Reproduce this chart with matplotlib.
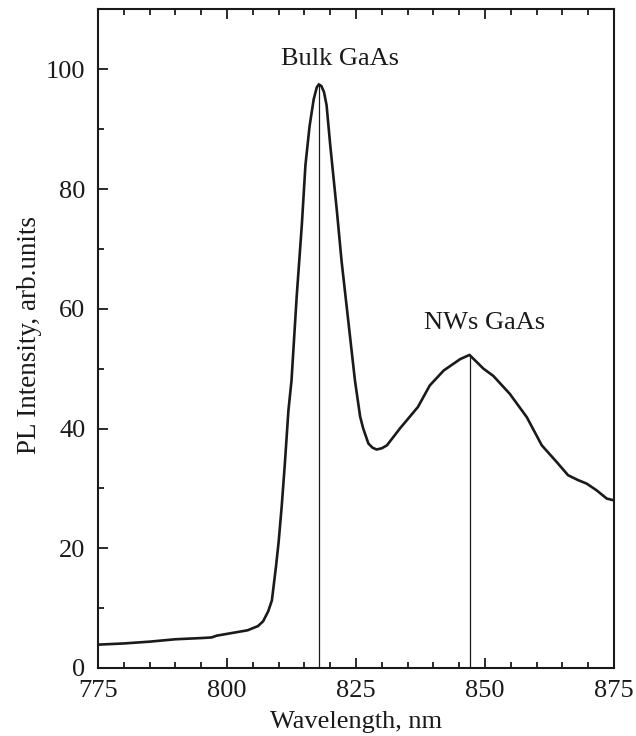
import numpy as np
import matplotlib
matplotlib.use("Agg")
import matplotlib.pyplot as plt
from matplotlib.ticker import MultipleLocator

plt.rcParams['font.family'] = ['Liberation Serif', 'DejaVu Serif']

# PL spectrum
wavelength = [775, 780, 785, 790, 795, 797, 798, 800, 802, 804, 806, 807, 808,
              808.7, 809.5, 810, 810.6, 811.2, 811.9, 812.5, 813.5, 814.5,
              815.2, 816, 816.8, 817.4, 817.8, 818.3, 818.8, 819.3, 820, 821.3,
              822.2, 823.5, 824.8, 825.8, 826.4, 827.4, 828.2, 829, 830, 831,
              833.5, 837, 839.3, 842, 845.2, 847, 849.7, 851.6, 854.8, 858.1,
              861, 863.9, 866.1, 868, 869.7, 871.6, 873.6, 875]
intensity = [3.9, 4.1, 4.4, 4.8, 5.0, 5.1, 5.4, 5.7, 6.0, 6.3, 7.0, 7.8, 9.5,
             11.3, 17, 21, 27, 34, 43, 48, 62, 74,
             84, 90.5, 95, 97, 97.5, 97.2, 96.2, 94, 87.4, 76.3,
             68, 58, 48, 42, 40, 37.5, 36.8, 36.5, 36.7, 37.2,
             40, 43.6, 47.2, 49.7, 51.6, 52.3, 50, 48.8, 45.8, 41.9,
             37.2, 34.4, 32.2, 31.4, 30.8, 29.7, 28.3, 28]

peak_pos = [817.8, 847.0]
peak_val = [97.5, 52.3]
peak_names = ['Bulk GaAs', 'NWs GaAs']
label_pos = [(821.9, 101.8), (849.9, 57.7)]

fig = plt.figure(figsize=(6.36, 7.36), dpi=100)
ax = fig.add_axes([0.1541, 0.0924, 0.8113, 0.8947])

ax.plot(wavelength, intensity, color='#1a1a1a', lw=1.9)
ax.vlines(peak_pos, 0, peak_val, color='#1a1a1a', lw=0.9)
for name, (tx, ty) in zip(peak_names, label_pos):
    ax.text(tx, ty, name, ha='center', va='center', fontsize=19, color='#1a1a1a')

ax.set_xlim(775, 875)
ax.set_ylim(0, 110)
ax.xaxis.set_major_locator(MultipleLocator(25))
ax.xaxis.set_minor_locator(MultipleLocator(5))
ax.yaxis.set_major_locator(MultipleLocator(20))
ax.yaxis.set_minor_locator(MultipleLocator(10))
ax.tick_params(which='both', direction='in', top=True, right=False,
               labelsize=19, width=1.3, colors='#1a1a1a')
ax.tick_params(which='major', length=7, pad=9)
ax.tick_params(which='minor', length=4.5)
for s in ax.spines.values():
    s.set_linewidth(1.5)
    s.set_color('#1a1a1a')

ax.set_xlabel('Wavelength, nm', fontsize=19, labelpad=6, color='#1a1a1a')
ax.set_ylabel('PL Intensity, arb.units', fontsize=19.5, color='#1a1a1a')
ax.yaxis.set_label_coords(-0.108, 0.505)

fig.savefig('out.png', dpi=100)
